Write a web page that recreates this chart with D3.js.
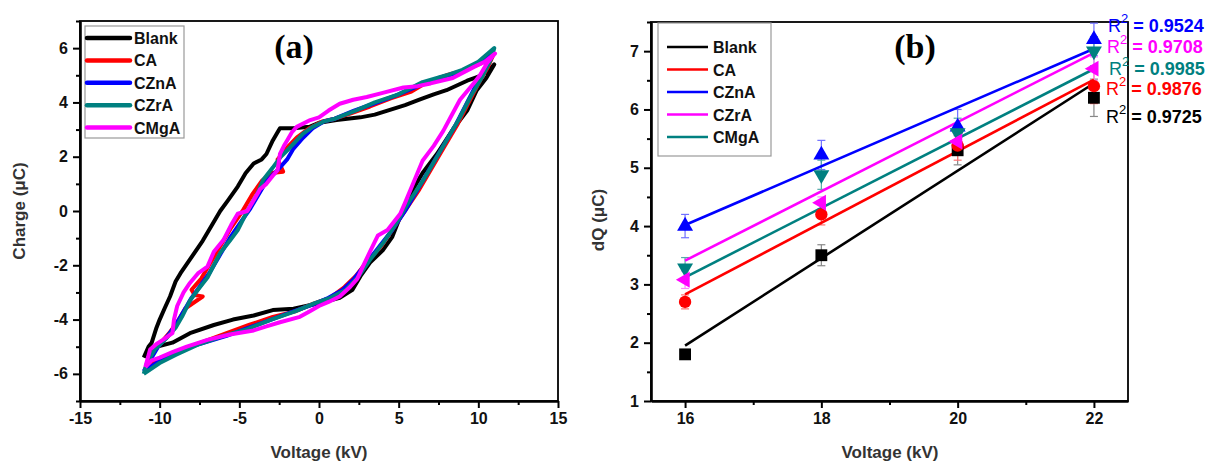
<!DOCTYPE html>
<html>
<head>
<meta charset="utf-8">
<script src="https://cdn.jsdelivr.net/npm/d3@7"></script>
<style>
  body { margin: 0; background: #fff; }
  svg text { font-family: Arial, "Liberation Sans", sans-serif; }
</style>
</head>
<body>
<div id="chart"></div>
<script>
// ---- panel (a): Q-V loops, [voltage kV, charge uC]
const loopNames = ["Blank", "CA", "CZnA", "CZrA", "CMgA"];
const loopColors = ["#000000", "#ff0000", "#0000ff", "#008080", "#ff00ff"];

const blankLoop = [[-11,-5.4],[-10.7,-5.0],[-10.5,-4.85],[-10.2,-4.3],[-10,-4.0],[-9.7,-3.6],[-9.35,-3.15],[-9.0,-2.6],
  [-8.7,-2.3],[-8.0,-1.7],[-7.3,-1.1],[-6.8,-0.6],[-6.2,0],[-5.7,0.4],[-5.1,0.9],[-4.6,1.4],[-4.1,1.75],[-3.6,1.9],
  [-3.3,2.1],[-2.9,2.6],[-2.6,2.9],[-2.45,3.05],[-1.6,3.05],[-0.6,3.1],[0,3.25],[1.1,3.35],[2.6,3.45],[3.5,3.55],
  [4.3,3.7],[5.4,3.9],[6.3,4.1],[7.2,4.3],[8.0,4.45],[9.3,4.8],[10.0,4.95],[10.7,5.2],[11,5.4],[10.5,4.9],[9.9,4.45],
  [9.3,3.7],[8.4,3.0],[7.4,2.1],[6.5,1.4],[5.6,0.5],[5.1,-0.2],[4.6,-0.95],[4.0,-1.45],[3.2,-1.9],[2.6,-2.4],
  [2.1,-2.9],[1.3,-3.2],[0,-3.4],[-1.6,-3.6],[-2.9,-3.65],[-4.1,-3.85],[-5.4,-4.0],[-6.6,-4.2],[-8.1,-4.5],
  [-9.2,-4.85],[-10.2,-5.0],[-10.8,-5.2],[-11,-5.4]];

const caLoop = [[-10.9,-5.8],[-10.5,-5.3],[-10.0,-4.9],[-9.4,-4.5],[-8.9,-4.1],[-8.4,-3.6],[-7.3,-3.15],[-7.8,-3.1],
  [-8.0,-2.9],[-7.4,-2.5],[-6.8,-1.9],[-6.2,-1.3],[-5.5,-0.6],[-4.8,0.0],[-4.2,0.6],[-3.6,1.1],[-3.0,1.4],[-2.25,1.45],
  [-2.6,1.9],[-1.9,2.4],[-1.4,2.7],[-0.6,3.05],[0.2,3.3],[1.0,3.4],[2.0,3.6],[3.2,3.85],[4.5,4.15],[5.8,4.4],[6.8,4.75],
  [8.0,5.0],[9.2,5.2],[10.2,5.45],[10.9,5.7],[10.6,5.3],[10.1,4.8],[9.4,4.0],[8.7,3.2],[7.9,2.4],[7.1,1.6],[6.3,0.8],
  [5.5,0.1],[4.7,-0.6],[3.9,-1.3],[3.1,-1.8],[2.3,-2.4],[1.6,-2.8],[0.7,-3.2],[-0.3,-3.4],[-1.5,-3.7],[-2.9,-3.9],
  [-4.4,-4.2],[-5.8,-4.5],[-7.2,-4.8],[-8.6,-5.1],[-9.8,-5.4],[-10.9,-5.8]];

const cznaLoop = [[-11,-5.9],[-10.6,-5.5],[-10.1,-5.0],[-9.5,-4.6],[-9.0,-4.2],[-8.5,-3.7],[-8.0,-3.2],[-7.5,-2.8],
  [-6.9,-2.3],[-6.3,-1.7],[-5.6,-1.0],[-4.9,-0.4],[-4.3,0.1],[-3.8,0.6],[-3.3,1.1],[-2.6,1.5],[-2.0,1.9],[-1.6,2.3],
  [-1.0,2.7],[-0.4,3.05],[0.3,3.3],[1.0,3.4],[2.2,3.7],[3.4,3.95],[4.8,4.25],[6.2,4.6],[7.5,4.9],[8.8,5.1],[9.8,5.4],
  [10.5,5.6],[10.9,5.8],[10.6,5.4],[10.0,4.8],[9.3,4.0],[8.6,3.2],[7.8,2.4],[7.0,1.6],[6.2,0.8],[5.4,0.0],[4.6,-0.7],
  [3.8,-1.3],[3.0,-1.9],[2.2,-2.5],[1.5,-2.9],[0.6,-3.2],[-0.4,-3.45],[-1.6,-3.7],[-3.0,-4.0],[-4.4,-4.3],[-5.8,-4.6],
  [-7.2,-4.85],[-8.6,-5.1],[-9.8,-5.45],[-11,-5.9]];

const czraLoop = [[-11,-6.0],[-10.8,-5.6],[-10.3,-5.1],[-9.6,-4.7],[-9.0,-4.3],[-8.6,-3.9],[-8.1,-3.3],[-7.6,-2.9],
  [-7.0,-2.45],[-6.6,-2.0],[-6.2,-1.55],[-5.6,-1.1],[-5.1,-0.7],[-4.5,0],[-3.9,0.6],[-3.5,1.15],[-2.9,1.6],[-2.4,2.0],
  [-1.8,2.35],[-1.0,2.85],[-0.4,3.1],[0.3,3.3],[1,3.4],[2.3,3.7],[3.5,4.0],[5,4.3],[6.5,4.75],[8,5.0],[9,5.2],[10,5.5],
  [10.6,5.8],[11,6.0],[10.8,5.6],[10.2,4.9],[9.5,4.2],[8.8,3.4],[8.0,2.6],[7.2,1.8],[6.5,1.1],[5.6,0.3],[4.8,-0.5],
  [4.0,-1.2],[3.2,-1.8],[2.5,-2.4],[1.7,-2.9],[0.7,-3.2],[-0.3,-3.4],[-1.5,-3.7],[-3,-4.0],[-4.5,-4.35],[-6,-4.6],
  [-7.5,-4.9],[-9,-5.3],[-10,-5.6],[-11,-6.0]];

const cmgaLoop = [[-10.9,-5.75],[-10.6,-5.1],[-10.2,-4.9],[-9.8,-4.75],[-9.2,-4.5],[-9.1,-4.0],[-8.9,-3.5],[-8.5,-3.0],
  [-8.1,-2.65],[-7.6,-2.3],[-7.0,-2.05],[-6.6,-1.5],[-6.0,-1.07],[-5.5,-0.5],[-5.1,-0.1],[-4.5,0],[-4.1,0.4],
  [-3.7,0.8],[-3.3,1.0],[-2.9,1.3],[-2.6,1.5],[-2.45,2.1],[-2.2,2.4],[-2.0,2.6],[-1.7,2.9],[-1.4,3.1],[-0.55,3.35],
  [0,3.45],[0.6,3.7],[1.3,3.95],[2.15,4.1],[3.0,4.2],[4.0,4.35],[5.3,4.55],[6.2,4.6],[7.0,4.7],[8.4,4.9],[9.7,5.3],
  [10.4,5.5],[11.05,5.8],[10.55,5.45],[10.1,5.0],[9.7,4.7],[8.85,4.1],[8.3,3.5],[7.8,2.95],[7.2,2.4],[6.5,1.85],
  [5.9,1.0],[5.4,0.3],[5.1,-0.1],[4.3,-0.7],[3.7,-0.9],[3.2,-1.5],[2.75,-2.05],[2.4,-2.5],[1.95,-2.8],[1.3,-3.15],
  [0.6,-3.35],[0,-3.5],[-0.6,-3.7],[-1.2,-3.9],[-2.45,-4.1],[-3.3,-4.25],[-4.1,-4.4],[-5.6,-4.55],[-7.0,-4.75],
  [-8.3,-5.0],[-9.2,-5.2],[-10,-5.4],[-10.5,-5.5],[-10.9,-5.75]];

const loops = [blankLoop, caLoop, cznaLoop, czraLoop, cmgaLoop];

// ---- panel (b): dQ vs voltage
const voltages = [16, 18, 20, 22];
const fitNames = ["Blank", "CA", "CZnA", "CZrA", "CMgA"];
const lineColors = ["#000000", "#ff0000", "#0000ff", "#ff00ff", "#008080"];
const markerColors = ["#000000", "#ff0000", "#0000ff", "#008080", "#ff00ff"];
const dqBlank = [1.8, 3.5, 5.3, 6.2];
const dqCA = [2.7, 4.2, 5.38, 6.4];
const dqCZnA = [4.0, 5.22, 5.7, 7.2];
const dqCZrA = [3.28, 4.88, 5.6, 7.0];
const dqCMgA = [3.08, 4.4, 5.45, 6.7];
const errBlank = [0.05, 0.18, 0.25, 0.32];
const errCA = [0.12, 0.18, 0.25, 0.3];
const errCZnA = [0.2, 0.25, 0.3, 0.28];
const errCZrA = [0.18, 0.25, 0.25, 0.25];
const errCMgA = [0.15, 0.1, 0.2, 0.2];
const r2Labels = ["0.9524", "0.9708", "0.9985", "0.9876", "0.9725"];
const r2Colors = ["#0000ff", "#ff00ff", "#008080", "#ff0000", "#000000"];

const dqSeries = [dqBlank, dqCA, dqCZnA, dqCZrA, dqCMgA];
const errSeries = [errBlank, errCA, errCZnA, errCZrA, errCMgA];
const errColors = ["#888888", "#ff7070", "#7070ff", "#55aaaa", "#ff80ff"];
const symbols = [d3.symbolSquare, d3.symbolCircle, d3.symbolTriangle, d3.symbolTriangle, d3.symbolTriangle];
const symRotate = [0, 0, 0, 180, -90];
const symSize = [140, 120, 110, 110, 110];

const svg = d3.select("#chart").append("svg")
  .attr("width", 1207)
  .attr("height", 465);

// scales
const xA = d3.scaleLinear().domain([-15, 15]).range([80, 558]);
const yA = d3.scaleLinear().domain([-7, 7]).range([401, 21]);
const xB = d3.scaleLinear().domain([15.5, 22.5]).range([651, 1128]);
const yB = d3.scaleLinear().domain([1, 7.5]).range([401, 22]);

function drawAxes(x, y, xMajor, xMinor, yMajor, yMinor) {
  const [x0, x1] = x.range();
  const [y0, y1] = y.range();
  svg.append("rect")
    .attr("x", x0).attr("y", y1)
    .attr("width", x1 - x0).attr("height", y0 - y1)
    .attr("fill", "none").attr("stroke", "#000").attr("stroke-width", 1.8);

  const fmt = d => String(d);
  const gx = svg.append("g").attr("transform", "translate(0," + y0 + ")")
    .call(d3.axisBottom(x).tickValues(xMajor).tickSize(7).tickSizeOuter(0).tickPadding(5).tickFormat(fmt));
  svg.append("g").attr("transform", "translate(0," + y0 + ")")
    .call(d3.axisBottom(x).tickValues(xMinor).tickSize(4).tickSizeOuter(0).tickFormat(""))
    .select(".domain").remove();
  const gy = svg.append("g").attr("transform", "translate(" + x0 + ",0)")
    .call(d3.axisLeft(y).tickValues(yMajor).tickSize(7).tickSizeOuter(0).tickPadding(5).tickFormat(fmt));
  svg.append("g").attr("transform", "translate(" + x0 + ",0)")
    .call(d3.axisLeft(y).tickValues(yMinor).tickSize(4).tickSizeOuter(0).tickFormat(""))
    .select(".domain").remove();

  [gx, gy].forEach(g => {
    g.select(".domain").attr("stroke-width", 2.6);
    g.selectAll("text").attr("font-size", 16).attr("font-weight", "bold").attr("fill", "#111");
  });
  svg.selectAll(".tick line").attr("stroke-width", 2);
}

// ---------- panel (a)
drawAxes(xA, yA,
  [-15, -10, -5, 0, 5, 10, 15], [-12.5, -7.5, -2.5, 2.5, 7.5, 12.5],
  [-6, -4, -2, 0, 2, 4, 6], [-7, -5, -3, -1, 1, 3, 5, 7]);

const loopLine = d3.line().x(d => xA(d[0])).y(d => yA(d[1]));
svg.append("g").selectAll("path")
  .data(loops)
  .enter().append("path")
  .attr("d", loopLine)
  .attr("fill", "none")
  .attr("stroke", (d, i) => loopColors[i])
  .attr("stroke-width", 4)
  .attr("stroke-linejoin", "round");

// legend (a)
const legA = svg.append("g");
legA.append("rect").attr("x", 85).attr("y", 26).attr("width", 99).attr("height", 112)
  .attr("fill", "#fff").attr("stroke", "#999").attr("stroke-width", 1.2);
loopNames.forEach((name, i) => {
  const yy = 38 + i * 22.4;
  legA.append("line").attr("x1", 87).attr("x2", 130).attr("y1", yy).attr("y2", yy)
    .attr("stroke", loopColors[i]).attr("stroke-width", 4.5).attr("stroke-linecap", "round");
  legA.append("text").attr("x", 134).attr("y", yy + 6).text(name)
    .attr("font-size", 16).attr("font-weight", "bold").attr("fill", "#111");
});

svg.append("text").attr("x", 294).attr("y", 58).attr("text-anchor", "middle")
  .style("font-family", "'Liberation Serif', 'Times New Roman', serif")
  .attr("font-size", 34).attr("font-weight", "bold").text("(a)");

svg.append("text").attr("x", 319).attr("y", 458).attr("text-anchor", "middle")
  .attr("font-size", 17).attr("font-weight", "bold").attr("fill", "#333").text("Voltage (kV)");
svg.append("text").attr("transform", "translate(25,211) rotate(-90)").attr("text-anchor", "middle")
  .attr("font-size", 17).attr("font-weight", "bold").attr("fill", "#333").text("Charge (\u03bcC)");

// ---------- panel (b)
drawAxes(xB, yB,
  [16, 18, 20, 22], [17, 19, 21],
  [1, 2, 3, 4, 5, 6, 7], [1.5, 2.5, 3.5, 4.5, 5.5, 6.5, 7.5]);

// least squares fit of each series
function linFit(xs, ys) {
  const mx = d3.mean(xs), my = d3.mean(ys);
  const b = d3.sum(xs, (x, i) => (x - mx) * (ys[i] - my)) / d3.sum(xs, x => (x - mx) * (x - mx));
  return [my - b * mx, b];
}

const gB = svg.append("g");
// error bars
dqSeries.forEach((vals, s) => {
  vals.forEach((v, i) => {
    const e = errSeries[s][i];
    const cx = xB(voltages[i]);
    gB.append("line").attr("x1", cx).attr("x2", cx).attr("y1", yB(v - e)).attr("y2", yB(v + e))
      .attr("stroke", errColors[s]).attr("stroke-width", 1.2);
    [v - e, v + e].forEach(w => {
      gB.append("line").attr("x1", cx - 4).attr("x2", cx + 4).attr("y1", yB(w)).attr("y2", yB(w))
        .attr("stroke", errColors[s]).attr("stroke-width", 1.2);
    });
  });
});
// fit lines
dqSeries.forEach((vals, s) => {
  const [a, b] = linFit(voltages, vals);
  const x0 = voltages[0], x1 = voltages[voltages.length - 1];
  gB.append("line")
    .attr("x1", xB(x0)).attr("y1", yB(a + b * x0))
    .attr("x2", xB(x1)).attr("y2", yB(a + b * x1))
    .attr("stroke", lineColors[s]).attr("stroke-width", 2.6);
});
// markers
dqSeries.forEach((vals, s) => {
  gB.selectAll(null)
    .data(vals)
    .enter().append("path")
    .attr("d", d3.symbol().type(symbols[s]).size(symSize[s]))
    .attr("transform", (d, i) => "translate(" + xB(voltages[i]) + "," + yB(d) + ") rotate(" + symRotate[s] + ")")
    .attr("fill", markerColors[s]);
});

// legend (b)
const legB = svg.append("g");
legB.append("rect").attr("x", 658).attr("y", 23).attr("width", 113).attr("height", 133)
  .attr("fill", "#fff").attr("stroke", "#999").attr("stroke-width", 1.2);
fitNames.forEach((name, i) => {
  const yy = 47 + i * 22.5;
  legB.append("line").attr("x1", 667).attr("x2", 708).attr("y1", yy).attr("y2", yy)
    .attr("stroke", lineColors[i]).attr("stroke-width", 2.6);
  legB.append("text").attr("x", 713).attr("y", yy + 6).text(name)
    .attr("font-size", 16).attr("font-weight", "bold").attr("fill", "#111");
});

// R^2 labels
const r2Base = [32, 53, 75, 95, 123];
const r2X = [1108, 1107, 1109, 1106, 1106];
r2Labels.forEach((lab, i) => {
  const t = svg.append("text").attr("x", r2X[i]).attr("y", r2Base[i])
    .attr("fill", r2Colors[i]).attr("font-size", 18);
  t.append("tspan").text("R");
  t.append("tspan").attr("dy", -9).attr("font-size", 13).text("2");
  t.append("tspan").attr("dy", 9).attr("font-weight", "bold").text(" = " + lab);
});

svg.append("text").attr("x", 890).attr("y", 458).attr("text-anchor", "middle")
  .attr("font-size", 17).attr("font-weight", "bold").attr("fill", "#333").text("Voltage (kV)");
svg.append("text").attr("transform", "translate(604,220) rotate(-90)").attr("text-anchor", "middle")
  .attr("font-size", 17).attr("font-weight", "bold").attr("fill", "#333").text("dQ (\u03bcC)");

svg.append("text").attr("x", 915).attr("y", 58).attr("text-anchor", "middle")
  .style("font-family", "'Liberation Serif', 'Times New Roman', serif")
  .attr("font-size", 34).attr("font-weight", "bold").text("(b)");
</script>
</body>
</html>
